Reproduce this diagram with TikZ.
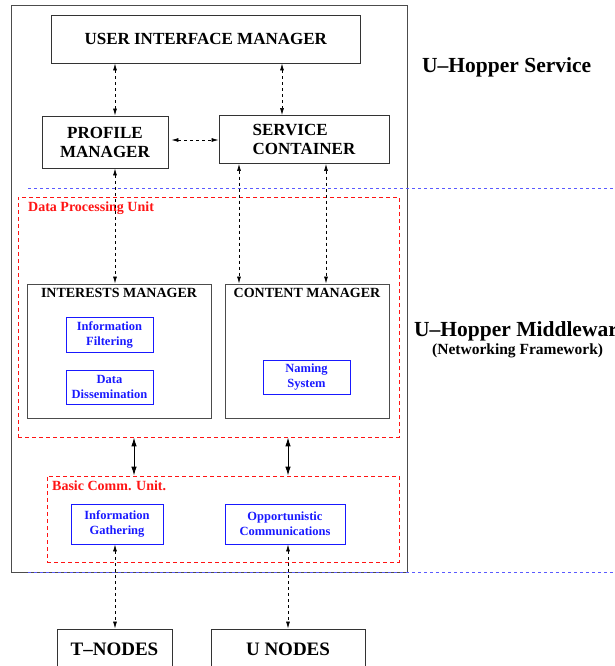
\documentclass[tikz,border=0pt]{standalone}
\usepackage{fontspec}
\setmainfont{Liberation Serif}
\usetikzlibrary{arrows.meta,calc}
\definecolor{bl}{RGB}{25,25,255}
\definecolor{rd}{RGB}{255,20,20}
\definecolor{sep}{RGB}{90,90,255}
\begin{document}
\begin{tikzpicture}[x=1pt,y=-1pt,
  box/.style={draw=black!80, line width=0.9pt, inner sep=0pt, align=center,
    font=\fontsize{17}{19}\selectfont\bfseries},
  bigbox/.style={draw=black!70, line width=0.9pt, inner sep=0pt},
  bluebox/.style={draw=bl, text=bl, line width=0.9pt, inner sep=0pt, align=center,
    font=\fontsize{12.5}{15}\selectfont\bfseries},
  unit/.style={draw=rd, line width=0.8pt, dash pattern=on 4pt off 3pt, inner sep=0pt},
  unitlabel/.style={text=rd, anchor=west, inner sep=0pt, font=\fontsize{14}{16}\selectfont\bfseries},
  title/.style={inner sep=0pt, font=\fontsize{14}{16}\selectfont\bfseries},
  biglabel/.style={anchor=west, inner sep=0pt, font=\fontsize{21.5}{24}\selectfont\bfseries},
  dasharrow/.style={line width=0.7pt, dash pattern=on 3pt off 3pt,
    {Latex[length=7pt,width=4pt]}-{Latex[length=7pt,width=4pt]}},
  solidarrow/.style={line width=1pt,
    {Latex[length=9pt,width=5.5pt]}-{Latex[length=9pt,width=5.5pt]}},
  sepline/.style={draw=sep, line width=1pt, dash pattern=on 3pt off 3pt}
]
\useasboundingbox (0,0) rectangle (615,666);
\clip (0,0) rectangle (615,666);

% outer box
\node[bigbox, minimum width=396pt, minimum height=567pt] (outer) at (209,288.5) {};

% top level
\node[box, minimum width=308.5pt, minimum height=48pt] (uim) at (205.75,39) {USER INTERFACE MANAGER};
\node[box, minimum width=126pt, minimum height=52pt] (pm) at (105,142) {PROFILE\\MANAGER};
\node[box, minimum width=170pt, minimum height=48pt, align=left] (sc) at (304,139.5) {SERVICE\\CONTAINER};

% data processing unit
\node[unit, minimum width=381pt, minimum height=240pt] (dpu) at (208.5,317) {};
\node[unitlabel] (dpul) at (28,208) {Data Processing Unit};

\node[bigbox, minimum width=183.5pt, minimum height=134pt] (im) at (119.25,351) {};
\node[title] (imt) at (119,293) {INTERESTS MANAGER};
\node[bigbox, minimum width=164pt, minimum height=134pt] (cm) at (307,351) {};
\node[title] (cmt) at (307,293) {CONTENT MANAGER};

\node[bluebox, minimum width=87pt, minimum height=35pt] (if) at (109.5,334.5) {Information\\Filtering};
\node[bluebox, minimum width=87pt, minimum height=34pt] (dd) at (109.5,387) {Data\\Dissemination};
\node[bluebox, minimum width=87pt, minimum height=34pt] (ns) at (306.5,377) {Naming\\System};

% basic comm unit
\node[unit, minimum width=352pt, minimum height=86pt] (bcu) at (223,519) {};
\node[unitlabel] (bcul) at (52,486) {Basic Comm. Unit.};
\node[bluebox, minimum width=92pt, minimum height=40pt] (ig) at (117,524) {Information\\Gathering};
\node[bluebox, minimum width=120pt, minimum height=40pt] (oc) at (285,524) {Opportunistic\\Communications};

% external nodes
\node[box, font=\fontsize{19}{21}\selectfont\bfseries, minimum width=115pt, minimum height=40pt] (tn) at (114.5,649) {T–NODES};
\node[box, font=\fontsize{19}{21}\selectfont\bfseries, minimum width=154pt, minimum height=40pt] (un) at (288,649) {U NODES};

% right side labels
\node[biglabel] (svc) at (422,67) {U–Hopper Service};
\node[biglabel] (mw) at (414,331) {U–Hopper Middleware};
\node[anchor=west, inner sep=0pt, font=\fontsize{15.5}{18}\selectfont\bfseries] (nf) at (432,351) {(Networking Framework)};

% separator lines
\draw[sepline] (28,188) -- (615,188);
\draw[sepline] (28,572) -- (615,572);

% helper coordinates
\coordinate (xa) at (115,0);
\coordinate (xb) at (282,0);
\coordinate (xc) at (239,0);
\coordinate (xd) at (326,0);
\coordinate (xe) at (134,0);
\coordinate (xf) at (288,0);
\coordinate (ya) at (0,140);

% connectors
\draw[dasharrow] (uim.south -| xa) -- (pm.north -| xa);
\draw[dasharrow] (uim.south -| xb) -- (sc.north -| xb);
\draw[dasharrow, shorten <=3pt] (pm.east |- ya) -- (sc.west |- ya);
\draw[dasharrow] (pm.south -| xa) -- (im.north -| xa);
\draw[dasharrow] (sc.south -| xc) -- (cm.north -| xc);
\draw[dasharrow] (sc.south -| xd) -- (cm.north -| xd);
\draw[solidarrow] (dpu.south -| xe) -- (bcu.north -| xe);
\draw[solidarrow] (dpu.south -| xf) -- (bcu.north -| xf);
\draw[dasharrow] (ig.south -| xa) -- (tn.north -| xa);
\draw[dasharrow] (oc.south -| xf) -- (un.north -| xf);
\end{tikzpicture}
\end{document}
